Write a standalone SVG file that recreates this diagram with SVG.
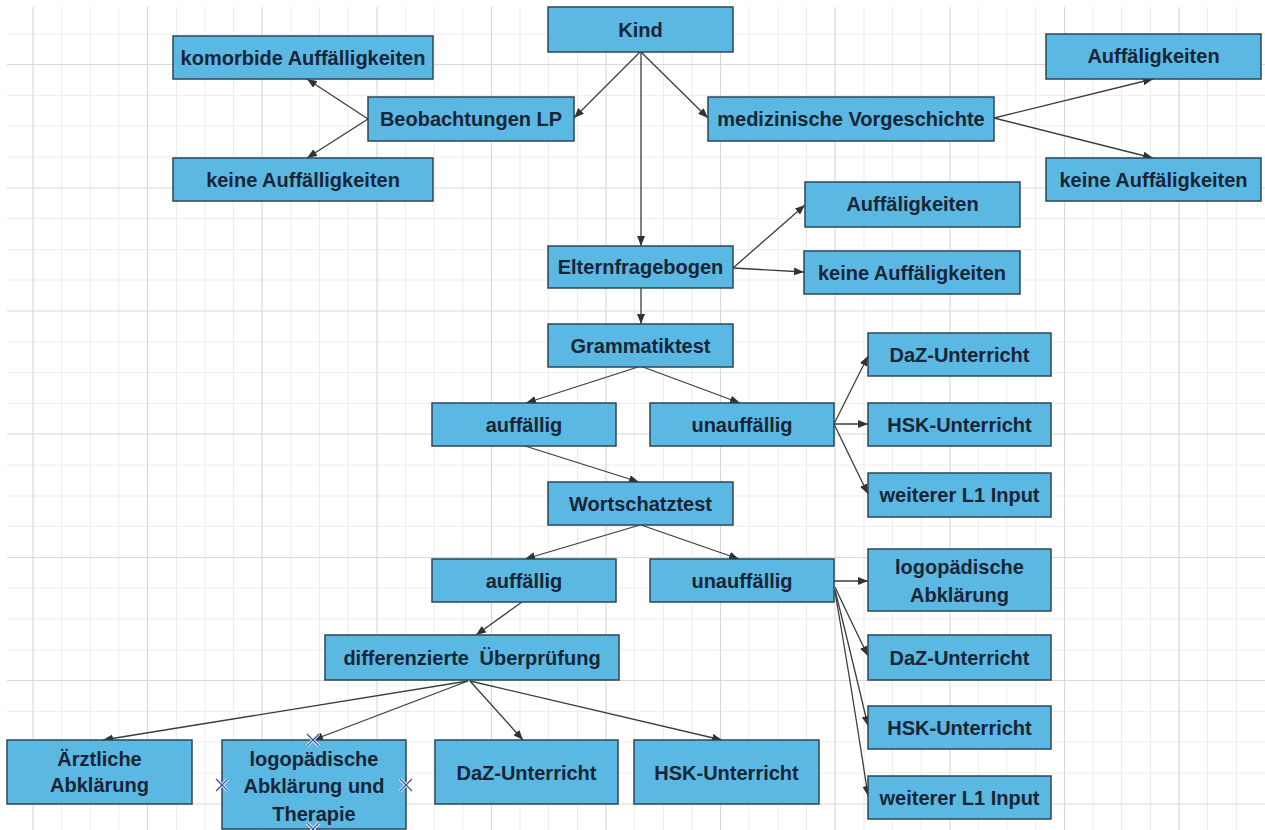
<svg xmlns="http://www.w3.org/2000/svg" width="1265" height="830" viewBox="0 0 1265 830">
<defs>
<style>
.minor{stroke:#ededed;stroke-width:1;fill:none}
.major{stroke:#d9d9d9;stroke-width:1.2;fill:none}
.box{fill:#5bb8e2;stroke:#2c4558;stroke-width:1.5}
.t{font-family:"Liberation Sans",Arial,sans-serif;font-weight:bold;font-size:20px;fill:#172536;text-anchor:middle}
.c{stroke:#3c3c3c;stroke-width:1.3;fill:none;marker-end:url(#arr)}
.xw{stroke:#ffffff;stroke-width:3;fill:none}
.xb{stroke:#3b4a9a;stroke-width:1.2;fill:none}
</style>
<marker id="arr" viewBox="0 0 10 8" refX="10" refY="4" markerWidth="10" markerHeight="8" markerUnits="userSpaceOnUse" orient="auto">
<path d="M0,0 L10,4 L0,8 z" fill="#333333"/>
</marker>
</defs>
<rect x="0" y="0" width="1265" height="830" fill="#ffffff"/>
<g id="grid">
<path class="minor" d="M61.5,7V830M90.5,7V830M119,7V830M176.5,7V830M205,7V830M233.5,7V830M291,7V830M319.5,7V830M348,7V830M405.5,7V830M434,7V830M463,7V830M520,7V830M548.5,7V830M577.5,7V830M634.5,7V830M663.5,7V830M692,7V830M749,7V830M778,7V830M806.5,7V830M864,7V830M892.5,7V830M921,7V830M978.5,7V830M1007,7V830M1035.5,7V830M1093,7V830M1121.5,7V830M1150.5,7V830M1207.5,7V830M1236.5,7V830"/>
<path class="minor" d="M7,34H1265M7,95.5H1265M7,126H1265M7,157H1265M7,218.5H1265M7,249.5H1265M7,280H1265M7,342H1265M7,372.5H1265M7,403.5H1265M7,465H1265M7,496H1265M7,526.5H1265M7,588H1265M7,619H1265M7,650H1265M7,711.5H1265M7,742H1265M7,773H1265"/>
<path class="major" d="M33,7V830M147.5,7V830M262,7V830M377,7V830M491.5,7V830M606,7V830M720.5,7V830M835,7V830M950,7V830M1064.5,7V830M1179,7V830"/>
<path class="major" d="M7,64.5H1265M7,188H1265M7,311H1265M7,434H1265M7,557.5H1265M7,680.5H1265M7,804H1265"/>
</g>
<g id="connectors">
<line class="c" x1="640" y1="52" x2="574" y2="118"/>
<line class="c" x1="641" y1="52" x2="708" y2="118"/>
<line class="c" x1="641" y1="52" x2="641" y2="246"/>
<line class="c" x1="368" y1="119" x2="307" y2="79"/>
<line class="c" x1="368" y1="119" x2="307" y2="158"/>
<line class="c" x1="994" y1="118" x2="1153" y2="79"/>
<line class="c" x1="994" y1="118" x2="1153" y2="158"/>
<line class="c" x1="733" y1="268" x2="805" y2="205"/>
<line class="c" x1="733" y1="268" x2="804" y2="272"/>
<line class="c" x1="641" y1="288" x2="641" y2="324"/>
<line class="c" x1="638" y1="367" x2="526" y2="403"/>
<line class="c" x1="643" y1="367" x2="740" y2="403"/>
<line class="c" x1="525" y1="446" x2="639" y2="482"/>
<line class="c" x1="834" y1="424" x2="868" y2="356"/>
<line class="c" x1="834" y1="424" x2="868" y2="424"/>
<line class="c" x1="834" y1="424" x2="868" y2="494"/>
<line class="c" x1="640" y1="525" x2="525" y2="559"/>
<line class="c" x1="641" y1="525" x2="739" y2="559"/>
<line class="c" x1="522" y1="602" x2="476" y2="635"/>
<line class="c" x1="834" y1="581" x2="868" y2="581"/>
<path class="c" d="M835,587 Q848,615 868,656"/>
<path class="c" d="M835,590 Q850,650 868,726"/>
<path class="c" d="M835,592 Q852,690 868,796"/>
<line class="c" x1="468" y1="681" x2="103" y2="740"/>
<line class="c" x1="468" y1="681" x2="313" y2="740"/>
<line class="c" x1="470" y1="681" x2="523" y2="740"/>
<line class="c" x1="470" y1="681" x2="722" y2="740"/>
</g>
<g id="kind"><rect class="box" x="548" y="7" width="185" height="45"/><text class="t" x="640.5" y="37">Kind</text></g>
<g id="beobachtungen"><rect class="box" x="368" y="97" width="206" height="44"/><text class="t" x="471" y="126">Beobachtungen LP</text></g>
<g id="komorbide"><rect class="box" x="173" y="36" width="260" height="43"/><text class="t" x="303" y="65">komorbide Auffälligkeiten</text></g>
<g id="keine1"><rect class="box" x="173" y="158" width="260" height="43"/><text class="t" x="303" y="187">keine Auffälligkeiten</text></g>
<g id="medizinisch"><rect class="box" x="708" y="97" width="286" height="44"/><text class="t" x="851" y="126">medizinische Vorgeschichte</text></g>
<g id="auff-med"><rect class="box" x="1046" y="34" width="215" height="45"/><text class="t" x="1153.5" y="63">Auffäligkeiten</text></g>
<g id="keine-med"><rect class="box" x="1046" y="158" width="215" height="43"/><text class="t" x="1153.5" y="187">keine Auffäligkeiten</text></g>
<g id="auff-eltern"><rect class="box" x="805" y="182" width="215" height="45"/><text class="t" x="912.5" y="211">Auffäligkeiten</text></g>
<g id="keine-eltern"><rect class="box" x="804" y="251" width="216" height="43"/><text class="t" x="912" y="280">keine Auffäligkeiten</text></g>
<g id="eltern"><rect class="box" x="548" y="246" width="185" height="42"/><text class="t" x="640.5" y="274">Elternfragebogen</text></g>
<g id="grammatik"><rect class="box" x="548" y="324" width="185" height="43"/><text class="t" x="640.5" y="353">Grammatiktest</text></g>
<g id="auffaellig1"><rect class="box" x="432" y="403" width="184" height="43"/><text class="t" x="524" y="432">auffällig</text></g>
<g id="unauffaellig1"><rect class="box" x="650" y="403" width="184" height="43"/><text class="t" x="742" y="432">unauffällig</text></g>
<g id="daz1"><rect class="box" x="868" y="333" width="183" height="43"/><text class="t" x="959.5" y="362">DaZ-Unterricht</text></g>
<g id="hsk1"><rect class="box" x="868" y="403" width="183" height="43"/><text class="t" x="959.5" y="432">HSK-Unterricht</text></g>
<g id="l1-1"><rect class="box" x="868" y="473" width="183" height="44"/><text class="t" x="959.5" y="502">weiterer L1 Input</text></g>
<g id="wortschatz"><rect class="box" x="548" y="482" width="185" height="43"/><text class="t" x="640.5" y="511">Wortschatztest</text></g>
<g id="auffaellig2"><rect class="box" x="432" y="559" width="184" height="43"/><text class="t" x="524" y="588">auffällig</text></g>
<g id="unauffaellig2"><rect class="box" x="650" y="559" width="184" height="43"/><text class="t" x="742" y="588">unauffällig</text></g>
<g id="logo1"><rect class="box" x="868" y="549" width="183" height="62"/><text class="t" x="959.5" y="574">logopädische</text><text class="t" x="959.5" y="602">Abklärung</text></g>
<g id="daz2"><rect class="box" x="868" y="635" width="183" height="45"/><text class="t" x="959.5" y="665">DaZ-Unterricht</text></g>
<g id="hsk2"><rect class="box" x="868" y="706" width="183" height="43"/><text class="t" x="959.5" y="735">HSK-Unterricht</text></g>
<g id="l1-2"><rect class="box" x="868" y="776" width="183" height="43"/><text class="t" x="959.5" y="805">weiterer L1 Input</text></g>
<g id="differenziert"><rect class="box" x="325" y="635" width="294" height="45"/><text class="t" x="472" y="665" word-spacing="5">differenzierte Überprüfung</text></g>
<g id="aerztlich"><rect class="box" x="7" y="740" width="185" height="64"/><text class="t" x="99.5" y="766">Ärztliche</text><text class="t" x="99.5" y="792">Abklärung</text></g>
<g id="logo2"><rect class="box" x="222" y="740" width="184" height="89"/><text class="t" x="314" y="766">logopädische</text><text class="t" x="314" y="793">Abklärung und</text><text class="t" x="314" y="821">Therapie</text></g>
<g id="daz3"><rect class="box" x="435" y="740" width="183" height="64"/><text class="t" x="526.5" y="780">DaZ-Unterricht</text></g>
<g id="hsk3"><rect class="box" x="634" y="740" width="185" height="64"/><text class="t" x="726.5" y="780">HSK-Unterricht</text></g>
<g id="handles">
<path class="xw" d="M307,734L319,746M319,734L307,746M216,779L228,791M228,779L216,791M400,779L412,791M412,779L400,791M307,823L319,835M319,823L307,835"/>
<path class="xb" d="M307,734L319,746M319,734L307,746M216,779L228,791M228,779L216,791M400,779L412,791M412,779L400,791M307,823L319,835M319,823L307,835"/>
</g>
</svg>
